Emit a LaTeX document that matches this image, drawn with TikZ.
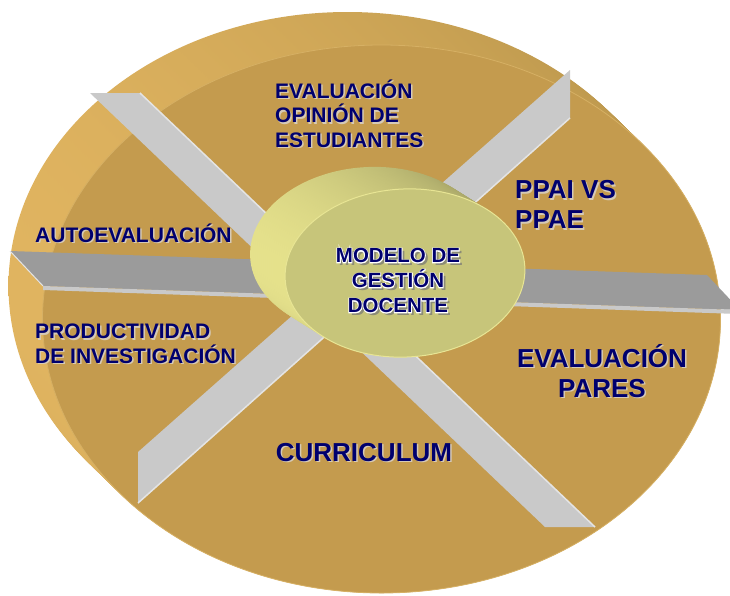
\documentclass[tikz,border=0pt]{standalone}
\usepackage{fontspec}
\setmainfont{Liberation Sans}
\usetikzlibrary{calc}

\definecolor{discface}{RGB}{196,155,78}
\definecolor{discedge}{RGB}{214,176,100}
\definecolor{rimlight}{RGB}{224,180,96}
\definecolor{rimdark}{RGB}{148,119,60}
\definecolor{rimright}{RGB}{186,150,76}
\definecolor{barlight}{RGB}{201,201,201}
\definecolor{baredge}{RGB}{228,228,228}
\definecolor{bardark}{RGB}{155,155,155}
\definecolor{hubface}{RGB}{199,197,122}
\definecolor{hubedge}{RGB}{232,229,148}
\definecolor{hublight}{RGB}{230,226,140}
\definecolor{hubdark}{RGB}{158,156,98}
\definecolor{navy}{RGB}{0,0,110}
\definecolor{lblshade}{RGB}{214,202,182}
\definecolor{hubshade}{RGB}{140,140,118}

% text with a soft drop shadow
\newcommand{\shadowed}[1]{\rlap{\kern1.5pt\raisebox{-1.5pt}{\textcolor{lblshade}{#1}}}#1}
% text with white halo and grey shadow
\newcommand{\haloed}[1]{\rlap{\kern2.8pt\raisebox{-2.8pt}{\textcolor{hubshade}{#1}}}%
  \rlap{\addfontfeature{FakeBold=8}\textcolor{white}{#1}}#1}

\begin{document}
\begin{tikzpicture}[x=1pt, y=-1pt,
  lbl/.style={text=navy, inner sep=0pt, align=left},
  small/.style={font=\bfseries\fontsize{21}{24.5}\selectfont},
  big/.style={font=\bfseries\fontsize{26}{30}\selectfont},
  hubtxt/.style={font=\bfseries\fontsize{20.5}{25}\selectfont, align=center}]

  \useasboundingbox (0,0) rectangle (730,595);
  \fill[white] (0,0) rectangle (730,595);

  % outer disc
  \coordinate (disc-back) at (347.5,286);
  \coordinate (disc-front) at (381.5,319);
  \foreach \k in {0,...,24}
    \shade[left color=rimlight, middle color=rimdark, right color=rimright]
      ($(disc-back)!\k/24!(disc-front)$) ellipse [x radius=339pt, y radius=274pt];
  \fill[discface, draw=discedge, line width=0.8pt]
    (disc-front) ellipse [x radius=339pt, y radius=274pt];

  % diagonal bars
  \coordinate (nw-a) at (90,93);
  \coordinate (nw-b) at (140,93);
  \coordinate (se-b) at (595,527);
  \coordinate (se-a) at (545,527);
  \fill[barlight] (nw-a) -- (nw-b) -- (se-b) -- (se-a) -- cycle;
  \draw[baredge, line width=1.5pt] (nw-b) -- (se-b);

  \coordinate (ne-a) at (570,70);
  \coordinate (ne-b) at (570,118);
  \coordinate (sw-b) at (138,503);
  \coordinate (sw-a) at (138,452);
  \fill[barlight] (ne-a) -- (ne-b) -- (sw-b) -- (sw-a) -- cycle;
  \draw[baredge, line width=1.5pt] (ne-b) -- (sw-b);

  % horizontal bar
  \coordinate (w-a) at (10,251);
  \coordinate (w-b) at (43,286);
  \coordinate (e-a) at (707,275);
  \coordinate (e-b) at (730,299.4);
  \coordinate (e-c) at (730,309.7);
  \coordinate (e-d) at (730,313.7);
  \coordinate (w-c) at (43,290);
  \fill[bardark] (w-a) -- (e-a) -- (e-b) -- (e-c) -- (w-b) -- cycle;
  \fill[barlight] (w-b) -- (e-c) -- (e-d) -- (w-c) -- cycle;
  \draw[baredge, line width=1pt] (w-a) -- (w-b);

  % hub
  \coordinate (hub-back) at (370,251);
  \coordinate (hub-front) at (405,273);
  \foreach \k in {0,...,18}
    \shade[left color=hublight, right color=hubdark]
      ($(hub-back)!\k/18!(hub-front)$) ellipse [x radius=120pt, y radius=84pt, rotate=3];
  \fill[hubface, draw=hubedge, line width=1pt]
    (hub-front) ellipse [x radius=120pt, y radius=84pt, rotate=3];

  % labels
  \node[lbl, small, anchor=west] (evalop) at (275,114.5)
    {\shadowed{EVALUACIÓN}\\\shadowed{OPINIÓN DE}\\\shadowed{ESTUDIANTES}};
  \node[lbl, small, anchor=west] (auto) at (35,234) {\shadowed{AUTOEVALUACIÓN}};
  \node[lbl, small, anchor=west] (prod) at (35,344.5)
    {\shadowed{PRODUCTIVIDAD}\\\shadowed{DE INVESTIGACIÓN}};
  \node[lbl, big, anchor=west] (ppai) at (515,205.5)
    {\shadowed{PPAI VS}\\\shadowed{PPAE}};
  \node[lbl, big, align=center] (pares) at (602,371.5)
    {\shadowed{EVALUACIÓN}\\\shadowed{PARES}};
  \node[lbl, big] (curr) at (364,453) {\shadowed{CURRICULUM}};

  % hub text
  \node[lbl, hubtxt] (hub) at (398,282)
    {\haloed{MODELO DE}\\\haloed{GESTIÓN}\\\haloed{DOCENTE}};

\end{tikzpicture}
\end{document}
